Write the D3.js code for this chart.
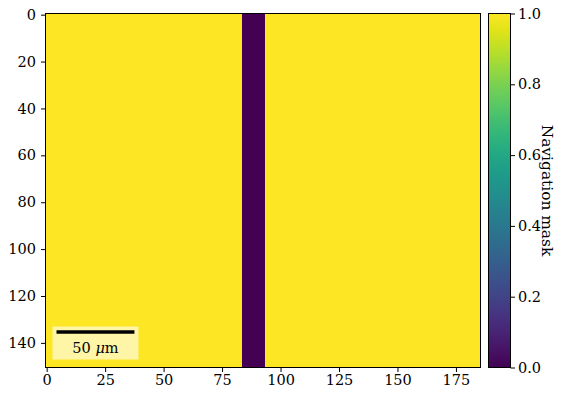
<!DOCTYPE html>
<html>
<head>
<meta charset="utf-8">
<script src="https://cdn.jsdelivr.net/npm/d3@7"></script>
<style>
  body { margin: 0; background: #fff; }
  text { font-family: "DejaVu Serif"; font-size: 14.5px; fill: #000; }
</style>
</head>
<body>
<svg width="564" height="399"></svg>
<script>
var svg = d3.select('svg');

// image size (pixels of the navigation mask)
const nCols = 186
const nRows = 151
// column runs of the mask: [first column, last column, value]
const maskRuns = [[0, 83, 1], [84, 93, 0], [94, 185, 1]]
const xTicks = [0, 25, 50, 75, 100, 125, 150, 175]
const yTicks = [0, 20, 40, 60, 80, 100, 120, 140]
const cbTicks = [0.0, 0.2, 0.4, 0.6, 0.8, 1.0]
const cbLabel = 'Navigation mask'
const scaleBarLength = 50   // µm
const umPerPixel = 1.5

const tickFont = '14.5px'

var x = d3.scaleLinear().domain([-0.5, nCols - 0.5]).range([45.5, 480.5]);
var y = d3.scaleLinear().domain([-0.5, nRows - 0.5]).range([13.5, 367.5]);
var color = d3.scaleSequential(d3.interpolateViridis).domain([0, 1]);

var plot = svg.append('g');

plot.selectAll('rect.cell')
  .data(maskRuns)
  .enter()
  .append('rect')
  .attr('class', 'cell')
  .attr('x', d => x(d[0] - 0.5))
  .attr('width', d => x(d[1] + 0.5) - x(d[0] - 0.5))
  .attr('y', y(-0.5))
  .attr('height', y(nRows - 0.5) - y(-0.5))
  .attr('fill', d => color(d[2]))
  .attr('shape-rendering', 'crispEdges');

// scale bar
var sbLen = scaleBarLength / umPerPixel;
var sbX0 = x(4.2), sbX1 = x(4.2 + sbLen);
plot.append('rect')
  .attr('x', sbX0 - 4).attr('y', 326.5)
  .attr('width', sbX1 - sbX0 + 8).attr('height', 33)
  .attr('fill', '#fff').attr('fill-opacity', 0.6);
plot.append('line')
  .attr('x1', sbX0).attr('x2', sbX1)
  .attr('y1', 332).attr('y2', 332)
  .attr('stroke', '#000').attr('stroke-width', 3.5);
var sbText = plot.append('text')
  .attr('x', (sbX0 + sbX1) / 2).attr('y', 353)
  .attr('text-anchor', 'middle');
sbText.append('tspan').text(scaleBarLength + ' ');
sbText.append('tspan').style('font-style', 'italic').text('\u03bc');
sbText.append('tspan').text('m');

// axes
var xAxis = svg.append('g')
  .attr('transform', 'translate(0,' + y(nRows - 0.5) + ')')
  .call(d3.axisBottom(x).tickValues(xTicks).tickSize(4.5).tickPadding(3));
var yAxis = svg.append('g')
  .attr('transform', 'translate(' + x(-0.5) + ',0)')
  .call(d3.axisLeft(y).tickValues(yTicks).tickSize(4.5).tickPadding(5));
[xAxis, yAxis].forEach(function (a) {
  a.select('.domain').remove();
  a.selectAll('text').style('font-family', '"DejaVu Serif"').style('font-size', tickFont).attr('fill', '#000');
  a.selectAll('line').attr('stroke', '#000');
});
svg.append('rect')
  .attr('x', x(-0.5)).attr('y', y(-0.5))
  .attr('width', x(nCols - 0.5) - x(-0.5))
  .attr('height', y(nRows - 0.5) - y(-0.5))
  .attr('fill', 'none').attr('stroke', '#000').attr('stroke-width', 1);

// colorbar
var cbX = 488.5, cbW = 22;
var cb = d3.scaleLinear().domain([0, 1]).range([367.5, 13.5]);
var grad = svg.append('defs').append('linearGradient')
  .attr('id', 'viridis').attr('x1', 0).attr('y1', 1).attr('x2', 0).attr('y2', 0);
d3.range(0, 1.0001, 0.05).forEach(function (t) {
  grad.append('stop').attr('offset', t).attr('stop-color', color(t));
});
svg.append('rect')
  .attr('x', cbX).attr('y', cb(1))
  .attr('width', cbW).attr('height', cb(0) - cb(1))
  .attr('fill', 'url(#viridis)').attr('stroke', '#000').attr('stroke-width', 1);
var cbAxis = svg.append('g')
  .attr('transform', 'translate(' + (cbX + cbW) + ',0)')
  .call(d3.axisRight(cb).tickValues(cbTicks).tickFormat(d3.format('.1f')).tickSize(4.5).tickPadding(3));
cbAxis.select('.domain').remove();
cbAxis.selectAll('text').style('font-family', '"DejaVu Serif"').style('font-size', tickFont).attr('fill', '#000');
cbAxis.selectAll('line').attr('stroke', '#000');

svg.append('text')
  .attr('transform', 'translate(542,' + (cb(0) + cb(1)) / 2 + ') rotate(90)')
  .attr('text-anchor', 'middle')
  .style('font-size', '15.4px')
  .text(cbLabel);
</script>
</body>
</html>
